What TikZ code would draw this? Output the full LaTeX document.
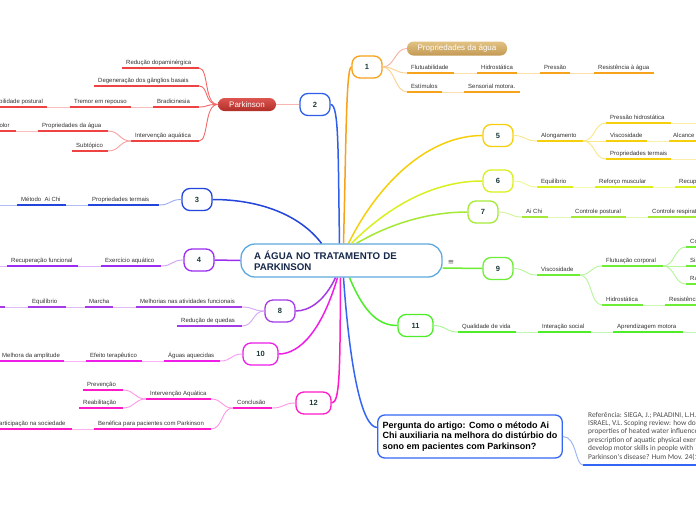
\documentclass[tikz,border=0pt]{standalone}
\usepackage{fontspec}
\setmainfont{Liberation Sans}
\newfontfamily\refont{Carlito}
\newfontfamily\symfont{DejaVu Sans}
\definecolor{labelgray}{HTML}{333333}
\definecolor{numcol}{HTML}{1D3A3A}
\definecolor{cO}{HTML}{F7A21B}
\definecolor{cB2}{HTML}{2F5FE8}
\definecolor{cR}{HTML}{EF4343}
\definecolor{cB3}{HTML}{2345DC}
\definecolor{cP4}{HTML}{9B2CF0}
\definecolor{cP8}{HTML}{A43BE6}
\definecolor{cM10}{HTML}{EE1EE8}
\definecolor{cM12}{HTML}{FF19C8}
\definecolor{cY5}{HTML}{F5CF0C}
\definecolor{cG6}{HTML}{D9F01E}
\definecolor{cG7}{HTML}{A5E836}
\definecolor{cG9}{HTML}{6DED35}
\definecolor{cG11}{HTML}{4DED29}
\definecolor{cQ}{HTML}{3366F5}
\definecolor{cC}{HTML}{5EA9DE}
\definecolor{titlecol}{HTML}{16284A}
\definecolor{goldtop}{HTML}{E2C283}
\definecolor{goldbot}{HTML}{C39A55}
\definecolor{redtop}{HTML}{DD5550}
\definecolor{redbot}{HTML}{B02E28}
\definecolor{pinklink}{HTML}{F7B0A0}
\tikzset{
  lbl/.style={font=\fontsize{6}{7}\selectfont, text=labelgray, inner sep=0pt},
  ulline/.style={line width=1.8pt},
  link/.style={line width=0.9pt},
  trunk/.style={line width=1.5pt},
  numbox/.style={draw=#1, line width=1.3pt, rounded corners=8pt, fill=white,
    minimum width=30pt, minimum height=22pt, inner sep=0pt,
    font=\fontsize{7.5}{9}\selectfont\bfseries, text=numcol},
}
\newcommand{\ulabel}[6]{%
  \coordinate (#1-l) at (#3,#5);
  \coordinate (#1-r) at (#4,#5);
  \draw[ulline,#2] (#1-l) -- (#1-r);
  \node[lbl,anchor=base west] (#1) at ({#3+4},{#5-4}) {#6};
}
\begin{document}
\begin{tikzpicture}[x=1pt,y=-1pt]
\useasboundingbox (0,0) rectangle (696,520);
\fill[white] (0,0) rectangle (696,520);
\clip (0,0) rectangle (696,520);

% central node
\node[draw=cC, line width=1.3pt, rounded corners=14pt, fill=white,
  minimum width=201pt, minimum height=33pt, text width=175pt, inner xsep=13pt,
  align=left, font=\fontsize{9.7}{11}\selectfont\bfseries, text=titlecol]
  (c) at (341.5,260.5) {A ÁGUA NO TRATAMENTO DE\\PARKINSON};
\node[font=\symfont\fontsize{7.5}{8}\selectfont, text=black!65, inner sep=0pt] (menu) at (451,262) {≡};

% number nodes
\node[numbox=cO] (n1) at (367,67) {1};
\node[numbox=cB2] (n2) at (315,104.5) {2};
\node[numbox=cB3] (n3) at (197,199.5) {3};
\node[numbox=cP4] (n4) at (199,260) {4};
\node[numbox=cY5] (n5) at (498,135.5) {5};
\node[numbox=cG6] (n6) at (498,181) {6};
\node[numbox=cG7] (n7) at (483,212) {7};
\node[numbox=cP8] (n8) at (280,311) {8};
\node[numbox=cG9] (n9) at (498,268.5) {9};
\node[numbox=cM10, minimum width=35pt] (n10) at (260.5,354) {10};
\node[numbox=cG11, minimum width=35pt] (n11) at (415.5,325.5) {11};
\node[numbox=cM12, minimum width=35pt] (n12) at (313.5,403) {12};

% question box
\node[draw=cQ, line width=1.3pt, rounded corners=7pt, fill=white,
  minimum width=184pt, minimum height=43pt, inner xsep=5pt, align=left,
  font=\fontsize{9}{10.7}\selectfont\bfseries, text=black]
  (q) at (470,436.5) {Pergunta do artigo: Como o método Ai\\Chi auxiliaria na melhora do distúrbio do\\sono em pacientes com Parkinson?};

% trunks
\draw[trunk,cB2] ([xshift=-2pt]c.north) .. controls (338,150) and (339,104.5) .. (n2.east);
\draw[trunk,cO] ([xshift=2pt]c.north) .. controls (346,150) and (346,67) .. (n1.west);
\draw[trunk,cB3] ([xshift=-20pt]c.north) .. controls (300,215) and (260,199.5) .. (n3.east);
\draw[trunk,cP4] (c.west) -- (n4.east);
\draw[trunk,cY5] ([xshift=7pt]c.north) .. controls (380,180) and (430,135.5) .. (n5.west);
\draw[trunk,cG6] ([xshift=10pt]c.north) .. controls (395,200) and (440,181) .. (n6.west);
\draw[trunk,cG7] ([xshift=15pt]c.north) .. controls (400,218) and (440,212) .. (n7.west);
\draw[trunk,cG9] ([yshift=-7.5pt]c.east) -- (n9.west);
\draw[trunk,cG11] ([xshift=8pt]c.south) .. controls (365,315) and (380,325.5) .. (n11.west);
\draw[trunk,cP8] ([xshift=-6pt]c.south) .. controls (325,300) and (310,311) .. (n8.east);
\draw[trunk,cM10] ([xshift=-4pt]c.south) .. controls (322,330) and (300,354) .. (n10.east);
\draw[trunk,cM12] ([xshift=-1pt]c.south) .. controls (340,370) and (340,403) .. (n12.east);
\draw[trunk,cQ] ([xshift=2pt]c.south) .. controls (350,370) and (362,427) .. ([yshift=9pt]q.west);

% ---------- branch 1
\node[top color=goldtop, bottom color=goldbot, rounded corners=6.5pt,
  minimum width=100pt, minimum height=14pt, inner sep=0pt, text=white,
  font=\fontsize{8}{9}\selectfont] (prop1) at (457,48.5) {Propriedades da água};
\ulabel{flut}{cO}{407}{454}{73}{Flutuabilidade}
\ulabel{hidro1}{cO}{477}{517}{73}{Hidrostática}
\ulabel{press}{cO}{540}{570}{73}{Pressão}
\ulabel{resist}{cO}{594}{654}{73}{Resistência à água}
\ulabel{estim}{cO}{407}{442}{92}{Estímulos}
\ulabel{senso}{cO}{464}{520}{92}{Sensorial motora.}
\draw[link,pinklink] (n1.east) .. controls +(12,0) and +(-12,0) .. (prop1.west);
\draw[link,cO!50] (n1.east) .. controls +(12,0) and +(-12,0) .. (flut-l);
\draw[link,cO!50] (n1.east) .. controls +(12,0) and +(-12,0) .. (estim-l);
\draw[link,cO!35] (flut-r) -- (hidro1-l);
\draw[link,cO!35] (hidro1-r) -- (press-l);
\draw[link,cO!35] (press-r) -- (resist-l);
\draw[link,cO!35] (estim-r) -- (senso-l);

% ---------- branch 2
\node[top color=redtop, bottom color=redbot, rounded corners=6.5pt,
  minimum width=58pt, minimum height=13pt, inner sep=0pt, text=white,
  font=\fontsize{8}{9}\selectfont] (park) at (247,104.5) {Parkinson};
\draw[link,cR!40] (park.east) -- (n2.west);
\ulabel{reduc}{cR}{122}{199}{68}{Redução dopaminérgica}
\ulabel{degen}{cR}{94}{199}{86}{Degeneração dos gânglios basais}
\ulabel{bradi}{cR}{153}{199}{107}{Bradicinesia}
\ulabel{tremor}{cR}{70}{131}{107}{Tremor em repouso}
\ulabel{instab}{cR}{-18}{47}{107}{Instabilidade postural}
\ulabel{interv}{cR}{131}{199}{141}{Intervenção aquática}
\ulabel{propag}{cR}{38}{108}{131}{Propriedades da água}
\ulabel{subt}{cR}{72}{108}{151}{Subtópico}
\ulabel{indolor}{cR}{-13}{16}{131}{Indolor}
\foreach \t in {reduc,degen,bradi,interv}
  \draw[link,cR!80] (park.west) .. controls +(-14,0) and +(10,0) .. (\t-r);
\draw[link,cR!35] (bradi-l) -- (tremor-r);
\draw[link,cR!35] (tremor-l) -- (instab-r);
\draw[link,cR!50] (interv-l) .. controls +(-12,0) and +(12,0) .. (propag-r);
\draw[link,cR!50] (interv-l) .. controls +(-12,0) and +(12,0) .. (subt-r);
\draw[link,cR!35] (propag-l) -- (indolor-r);

% ---------- branch 3
\ulabel{propt}{cB3}{88}{159}{205}{Propriedades termais}
\ulabel{metodo}{cB3}{17}{66}{205}{Método\ \ Ai Chi}
\coordinate (e3) at (-5,205);
\draw[link,cB3!45] (n3.west) .. controls +(-12,0) and +(12,0) .. (propt-r);
\draw[link,cB3!35] (propt-l) -- (metodo-r);
\draw[link,cB3!35] (metodo-l) -- (e3);

% ---------- branch 4
\ulabel{exerc}{cP4}{101}{161}{266}{Exercício aquático}
\ulabel{recup}{cP4}{7}{78}{266}{Recuperação funcional}
\coordinate (e4) at (-5,266);
\draw[link,cP4!45] (n4.west) .. controls +(-12,0) and +(12,0) .. (exerc-r);
\draw[link,cP4!35] (exerc-l) -- (recup-r);
\draw[link,cP4!35] (recup-l) -- (e4);

% ---------- branch 8
\ulabel{melh}{cP8}{136}{242}{307}{Melhorias nas atividades funcionais}
\ulabel{marcha}{cP8}{85}{113}{307}{Marcha}
\ulabel{equil8}{cP8}{28}{66}{307}{Equilíbrio}
\ulabel{quedas}{cP8}{177}{242}{326}{Redução de quedas}
\coordinate (e8l) at (-30,307);
\coordinate (e8r) at (5,307);
\draw[ulline,cP8] (e8l) -- (e8r);
\draw[link,cP8!45] (n8.west) .. controls +(-12,0) and +(12,0) .. (melh-r);
\draw[link,cP8!45] (n8.west) .. controls +(-12,0) and +(12,0) .. (quedas-r);
\draw[link,cP8!35] (melh-l) -- (marcha-r);
\draw[link,cP8!35] (marcha-l) -- (equil8-r);
\draw[link,cP8!35] (equil8-l) -- (e8r);

% ---------- branch 10
\ulabel{aguas}{cM10}{164}{220}{361}{Águas aquecidas}
\ulabel{efeito}{cM10}{86}{142}{361}{Efeito terapêutico}
\ulabel{melhamp}{cM10}{-2}{64}{361}{Melhora da amplitude}
\draw[link,cM10!45] (n10.west) .. controls +(-12,0) and +(12,0) .. (aguas-r);
\draw[link,cM10!35] (aguas-l) -- (efeito-r);
\draw[link,cM10!35] (efeito-l) -- (melhamp-r);

% ---------- branch 12
\ulabel{concl}{cM12}{233}{272}{408}{Conclusão}
\ulabel{intaq}{cM12}{146}{211}{399}{Intervenção Aquática}
\ulabel{prev}{cM12}{83}{123}{390}{Prevenção}
\ulabel{reab}{cM12}{79}{123}{408}{Reabilitação}
\ulabel{benef}{cM12}{94}{211}{429}{Benéfica para pacientes com Parkinson}
\ulabel{partic}{cM12}{-9}{72}{429}{Participação na sociedade}
\draw[link,cM12!45] (n12.west) .. controls +(-12,0) and +(12,0) .. (concl-r);
\draw[link,cM12!45] (concl-l) .. controls +(-12,0) and +(12,0) .. (intaq-r);
\draw[link,cM12!45] (concl-l) .. controls +(-12,0) and +(12,0) .. (benef-r);
\draw[link,cM12!45] (intaq-l) .. controls +(-12,0) and +(12,0) .. (prev-r);
\draw[link,cM12!45] (intaq-l) .. controls +(-12,0) and +(12,0) .. (reab-r);
\draw[link,cM12!35] (benef-l) -- (partic-r);

% ---------- branch 5
\ulabel{along}{cY5}{537}{583}{141}{Alongamento}
\ulabel{phidro}{cY5}{606}{671}{123}{Pressão hidrostática}
\ulabel{visc5}{cY5}{606}{647}{141}{Viscosidade}
\ulabel{alc}{cY5}{669}{740}{141}{Alcance de movimento}
\ulabel{propt5}{cY5}{606}{671}{159}{Propriedades termais}
\coordinate (e5a) at (700,123);
\coordinate (e5b) at (700,159);
\draw[link,cY5!50] (n5.east) .. controls +(12,0) and +(-12,0) .. (along-l);
\foreach \t in {phidro,visc5,propt5}
  \draw[link,cY5!50] (along-r) .. controls +(12,0) and +(-12,0) .. (\t-l);
\draw[link,cY5!35] (visc5-r) -- (alc-l);
\draw[link,cY5!35] (phidro-r) -- (e5a);
\draw[link,cY5!35] (propt5-r) -- (e5b);

% ---------- branch 6
\ulabel{equil6}{cG6}{537}{573}{187}{Equilíbrio}
\ulabel{reforco}{cG6}{595}{653}{187}{Reforço muscular}
\ulabel{recup6}{cG6}{675}{760}{187}{Recuperação funcional}
\draw[link,cG6!50] (n6.east) .. controls +(12,0) and +(-12,0) .. (equil6-l);
\draw[link,cG6!35] (equil6-r) -- (reforco-l);
\draw[link,cG6!35] (reforco-r) -- (recup6-l);

% ---------- branch 7
\ulabel{aichi}{cG7}{522}{548}{217}{Ai Chi}
\ulabel{ctrlp}{cG7}{571}{626}{217}{Controle postural}
\ulabel{ctrlr}{cG7}{648}{740}{217}{Controle respiratório}
\draw[link,cG7!50] (n7.east) .. controls +(12,0) and +(-12,0) .. (aichi-l);
\draw[link,cG7!35] (aichi-r) -- (ctrlp-l);
\draw[link,cG7!35] (ctrlp-r) -- (ctrlr-l);

% ---------- branch 9
\ulabel{visc9}{cG9}{537}{580}{275}{Viscosidade}
\ulabel{flutc}{cG9}{602}{663}{266}{Flutuação corporal}
\ulabel{hidro9}{cG9}{602}{643}{305}{Hidrostática}
\ulabel{resist9}{cG9}{665}{740}{305}{Resistência}
\ulabel{co}{cG9}{686}{740}{247}{Coordenação}
\ulabel{si}{cG9}{686}{740}{266}{Simetria}
\ulabel{ra}{cG9}{686}{740}{284}{Rapidez}
\draw[link,cG9!50] (n9.east) .. controls +(12,0) and +(-12,0) .. (visc9-l);
\draw[link,cG9!50] (visc9-r) .. controls +(12,0) and +(-12,0) .. (flutc-l);
\draw[link,cG9!50] (visc9-r) .. controls +(12,0) and +(-12,0) .. (hidro9-l);
\draw[link,cG9!35] (hidro9-r) -- (resist9-l);
\foreach \t in {co,si,ra}
  \draw[link,cG9!50] (flutc-r) .. controls +(12,0) and +(-12,0) .. (\t-l);

% ---------- branch 11
\ulabel{qual}{cG11}{458}{516}{332}{Qualidade de vida}
\ulabel{inter}{cG11}{538}{591}{332}{Interação social}
\ulabel{aprend}{cG11}{613}{683}{332}{Aprendizagem motora}
\coordinate (e11) at (700,332);
\draw[link,cG11!50] (n11.east) .. controls +(12,0) and +(-12,0) .. (qual-l);
\draw[link,cG11!35] (qual-r) -- (inter-l);
\draw[link,cG11!35] (inter-r) -- (aprend-l);
\draw[link,cG11!35] (aprend-r) -- (e11);

% ---------- reference
\coordinate (refl) at (583,465);
\coordinate (refr) at (700,465);
\draw[ulline,cQ] (refl) -- (refr);
\draw[link,cQ!50] (q.east) .. controls +(14,0) and +(-8,0) .. (refl);
\node[anchor=north west, inner sep=0pt, align=left, text=black!70,
  font=\refont\fontsize{7.4}{8.4}\selectfont] (reftxt) at (588,411)
  {Referência: SIEGA, J.; PALADINI, L.H.; GUIMARÃES, A.;\\
   ISRAEL, V.L. Scoping review: how do the\\
   properties of heated water influence the\\
   prescription of aquatic physical exercise to\\
   develop motor skills in people with\\
   Parkinson's disease? Hum Mov. 24(1): 2023.};
\end{tikzpicture}
\end{document}
